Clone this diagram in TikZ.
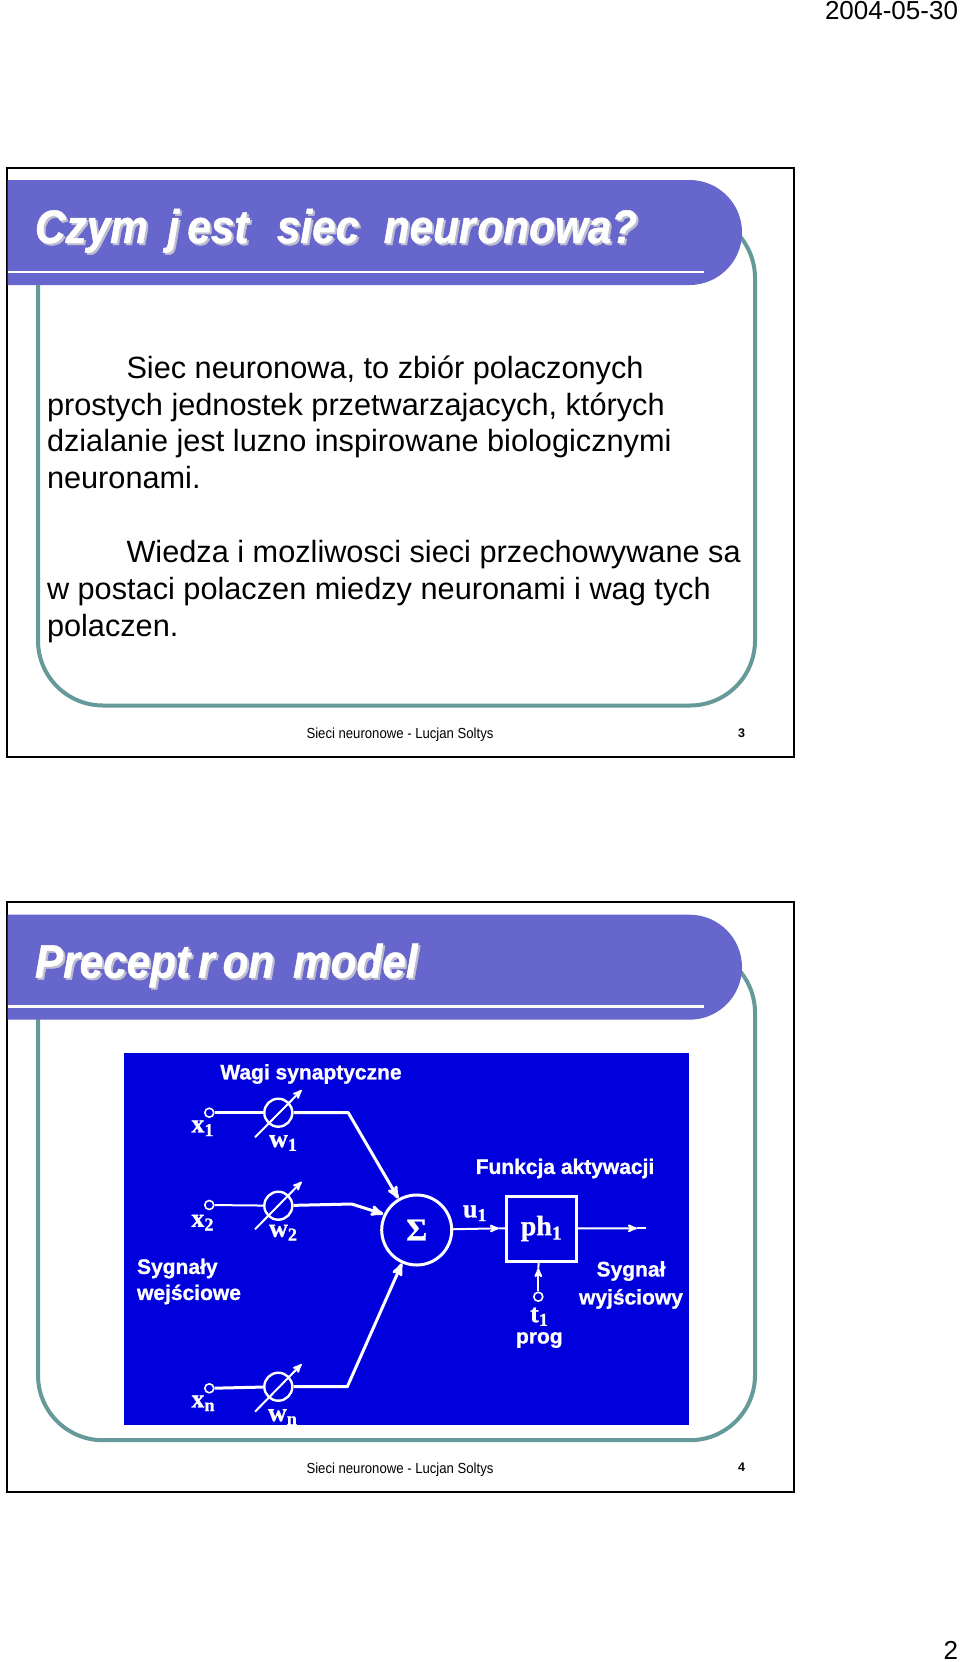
\documentclass[tikz,border=0pt]{standalone}
\usepackage{fontspec}
\setmainfont{Liberation Sans}
\newfontfamily\imgserif[BoldFeatures={FakeBold=1}]{Liberation Serif}
\newfontfamily\imgsans[BoldFeatures={FakeBold=1}]{Liberation Sans}
\newfontfamily\narrowsans[FakeStretch=0.9,BoldItalicFeatures={FakeBold=1}]{Liberation Sans}
\usetikzlibrary{arrows}
\definecolor{headerblue}{HTML}{6666CC}
\definecolor{panelteal}{HTML}{669999}
\definecolor{imgblue}{HTML}{0000DC}
\definecolor{titleshade}{HTML}{BEBED0}
\tikzset{
  plain/.style = {inner sep=0pt, outer sep=0pt, anchor=base west},
  bodytext/.style = {plain, font=\fontsize{30.7}{36.8}\selectfont},
  titletext/.style = {plain, white, font=\fontsize{47}{47}\selectfont\narrowsans\bfseries\itshape},% tytul slajdu
  titleshadow/.style = {titletext, titleshade},
  foot/.style = {inner sep=0pt, anchor=base, font=\fontsize{14.6}{15}\selectfont\narrowsans},
  imglabel/.style = {inner sep=0pt, white, align=center, font=\fontsize{21}{26}\selectfont\imgsans\bfseries},
  imgsymbol/.style = {inner sep=0pt, white, font=\fontsize{26}{26}\selectfont\imgserif\bfseries},
  port/.style = {circle, draw=white, fill=imgblue, line width=1.6pt, minimum size=9pt, inner sep=0pt},
  dial/.style = {circle, draw=white, line width=2.4pt, minimum size=28pt, inner sep=0pt},
  wire/.style = {draw=white, line width=3pt, line join=round},
  thinwire/.style = {draw=white, line width=2pt},
}

\begin{document}
\begin{tikzpicture}[x=1pt,y=-1pt,>=stealth']
\useasboundingbox (0,0) rectangle (960,1662);
\node [plain, font=\fontsize{26}{26}\selectfont, anchor=base east] (date) at (958,19.5) {2004-05-30};
\node [plain, font=\fontsize{26}{26}\selectfont, anchor=base east] (page) at (958,1659) {2};

% ramki i naglowki slajdow
\foreach \n/\off/\num in {a/0/3,b/734.7/4} {
  \draw [black, line width=2pt] (6.5,167.5+\off) rectangle (794,757+\off);
  \draw [panelteal, line width=4pt, rounded corners=65pt] (38,213+\off) rectangle (755,705.5+\off);
  \fill [headerblue] (7.5,180+\off) -- (689.5,180+\off) arc[start angle=90, end angle=-90, radius=52.5pt]
    -- (7.5,285+\off) -- cycle;
  \draw [white, line width=2.5pt] (7.5,272+\off) -- (704,272+\off);
  \node [foot] (foot\n) at (400,738.5+\off) {Sieci neuronowe - Lucjan Soltys};
  \node [foot, font=\fontsize{12.5}{13}\selectfont\bfseries] (num\n) at (741.5,737+\off) {\num};
}

\node [titleshadow] (titleas) at (37,245) {Czym\hspace{8pt} j\hspace{8pt}est\hspace{5pt}\ \ siec\hspace{1pt}\ \ neur\hspace{2pt}onowa?};
\node [titletext] (titlea) at (35,243) {Czym\hspace{8pt} j\hspace{8pt}est\hspace{5pt}\ \ siec\hspace{1pt}\ \ neur\hspace{2pt}onowa?};
\node [titleshadow] (titlebs) at (37,979.7) {Precept\hspace{8pt}r\hspace{8pt}on\hspace{7pt} model};
\node [titletext] (titleb) at (35,977.7) {Precept\hspace{8pt}r\hspace{8pt}on\hspace{7pt} model};

% tekst
\node [bodytext] (l1) at (126.5,378) {Siec neuronowa, to zbiór polaczonych};
\node [bodytext] (l2) at (47,415) {prostych jednostek przetwarzajacych, których};
\node [bodytext] (l3) at (47,451.5) {dzialanie jest luzno inspirowane biologicznymi};
\node [bodytext] (l4) at (47,488.5) {neuronami.};
\node [bodytext] (l5) at (126.5,562) {Wiedza i mozliwosci sieci przechowywane sa};
\node [bodytext] (l6) at (47,599) {w postaci polaczen miedzy neuronami i wag tych};
\node [bodytext] (l7) at (47,636) {polaczen.};

% schemat perceptronu
\fill [imgblue] (124,1052.7) rectangle (689.3,1425);
\node [circle, draw=white, line width=3pt, minimum size=70pt, inner sep=0pt, white,
  font=\fontsize{32}{32}\selectfont\imgserif\bfseries] (sum) at (416.7,1230) {Σ};
\node [rectangle, draw=white, line width=3pt, minimum width=70pt, minimum height=65pt, inner sep=0pt,
  white, font=\fontsize{28}{28}\selectfont\imgserif\bfseries] (ph) at (541.5,1228.5) {ph\textsubscript{1}};

\node [port] (x1) at (209.3,1112.7) {};
\node [port] (x2) at (209.3,1205) {};
\node [port] (xn) at (209.3,1388.3) {};
\node [port] (tin) at (538.3,1296.7) {};
\node [dial] (w1) at (278.3,1112.7) {};
\node [dial] (w2) at (278.3,1205.7) {};
\node [dial] (wn) at (278.3,1386.7) {};

\coordinate (w1a) at (255,1137.3);
\coordinate (w1b) at (301.7,1090);
\coordinate (w2a) at (255,1229.3);
\coordinate (w2b) at (301.7,1181.7);
\coordinate (wna) at (255,1411.7);
\coordinate (wnb) at (301.7,1364);
\coordinate (b1) at (348.3,1112.7);
\coordinate (b2) at (351.7,1204);
\coordinate (bn) at (347.3,1386.7);
\coordinate (in2) at (383.3,1214);
\coordinate (uin) at (499,1228.3);
\coordinate (tup) at (538.3,1268);
\coordinate (outtip) at (637,1228.3);
\coordinate (outend) at (646,1228.3);

\draw [wire] (x1) -- (w1);
\draw [thinwire] (x2) -- (w2);
\draw [wire] (xn) -- (wn);
\draw [wire, ->] (w1) -- (b1) -- (sum);
\draw [wire, ->] (w2) -- (b2) -- (in2);
\draw [wire, ->] (wn) -- (bn) -- (sum);
\draw [thinwire, ->] (w1a) -- (w1b);
\draw [thinwire, ->] (w2a) -- (w2b);
\draw [thinwire, ->] (wna) -- (wnb);
\draw [thinwire, ->] (sum) -- (uin);
\draw [thinwire] (uin) -- (ph);
\draw [thinwire, ->] (ph) -- (outtip);
\draw [thinwire] (outtip) -- (outend);
\draw [thinwire, ->] (tin) -- (tup);
\draw [thinwire] (tup) -- (ph);

\node [imglabel] (wagi) at (311,1074) {Wagi synaptyczne};
\node [imglabel, align=left] (wej) at (189,1281.5) {Sygnały\\wejściowe};
\node [imglabel] (fun) at (565,1168.5) {Funkcja aktywacji};
\node [imglabel] (wyj) at (631,1285) {Sygnał\\[2pt]wyjściowy};
\node [imglabel] (prog) at (539.3,1340) {prog};
\node [imgsymbol] (lx1) at (202.7,1128.3) {x\textsubscript{1}};
\node [imgsymbol] (lx2) at (202.7,1222.7) {x\textsubscript{2}};
\node [imgsymbol] (lxn) at (203.3,1403.3) {x\textsubscript{n}};
\node [imgsymbol] (lw1) at (283.3,1143) {w\textsubscript{1}};
\node [imgsymbol] (lw2) at (283.3,1232.7) {w\textsubscript{2}};
\node [imgsymbol] (lwn) at (282.7,1417) {w\textsubscript{n}};
\node [imgsymbol] (lu1) at (475,1213.3) {u\textsubscript{1}};
\node [imgsymbol] (lt1) at (539.3,1316.7) {t\textsubscript{1}};
\end{tikzpicture}
\end{document}
